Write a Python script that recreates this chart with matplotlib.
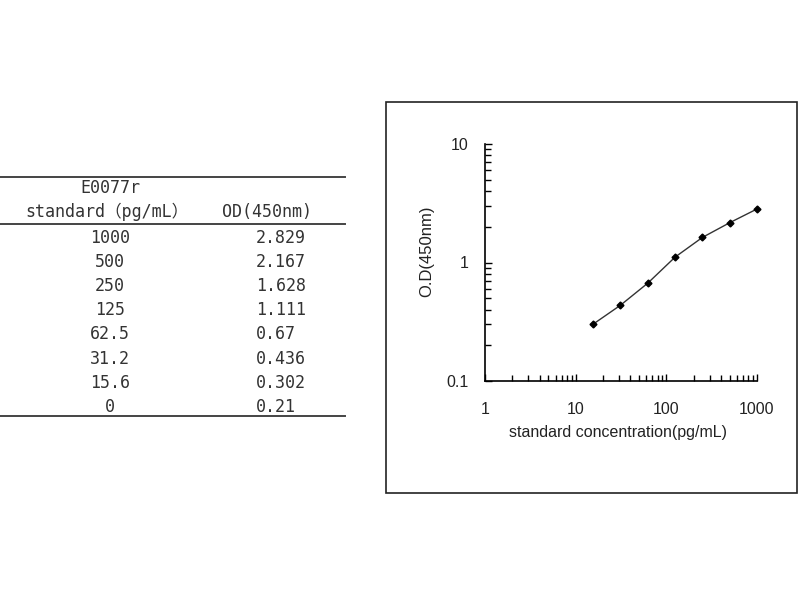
import matplotlib
matplotlib.use("Agg")
import matplotlib.pyplot as plt
from matplotlib.patches import Rectangle
from matplotlib.lines import Line2D
from matplotlib.ticker import LogLocator, FixedLocator, NullFormatter

# standard curve data
conc_labels = ["1000", "500", "250", "125", "62.5", "31.2", "15.6", "0"]
od_labels = ["2.829", "2.167", "1.628", "1.111", "0.67", "0.436", "0.302", "0.21"]
conc = [1000, 500, 250, 125, 62.5, 31.2, 15.6, 0]
od = [2.829, 2.167, 1.628, 1.111, 0.67, 0.436, 0.302, 0.21]

plt.rcParams['font.family'] = ['Liberation Sans', 'DejaVu Sans']

W, H = 800, 600
fig = plt.figure(figsize=(8, 6), dpi=100)
fig.patch.set_facecolor("white")

def fx(px):
    return px / W

def fy(py):
    return 1 - py / H

mono = ["DejaVu Sans Mono", "Noto Sans CJK SC"]
tcol = "#333333"

# table on the left
for y in (177, 224, 416):
    fig.add_artist(Line2D([fx(0), fx(345)], [fy(y), fy(y)], color="#444444", lw=1.4))

fig.text(fx(110), fy(188), "E0077r", family=mono, fontsize=12, color=tcol, ha="center", va="center")
fig.text(fx(107), fy(212), "standard\uff08pg/mL\uff09", family=mono, fontsize=12, color=tcol, ha="center", va="center")
fig.text(fx(267), fy(212), "OD(450nm)", family=mono, fontsize=12, color=tcol, ha="center", va="center")

for i, (c, o) in enumerate(zip(conc_labels, od_labels)):
    y = 238 + i * 24.1
    fig.text(fx(110), fy(y), c, family=mono, fontsize=12, color=tcol, ha="center", va="center")
    fig.text(fx(256), fy(y), o, family=mono, fontsize=12, color=tcol, ha="left", va="center")

# frame around the plot
fig.add_artist(Rectangle((fx(386), fy(493)), fx(797) - fx(386), fy(102) - fy(493),
                         fill=False, edgecolor="#222222", lw=1.2, transform=fig.transFigure))

ax = fig.add_axes([fx(485), fy(381), fx(757) - fx(485), fy(144) - fy(381)])
xs = [c for c in conc if c > 0]
ys = [o for c, o in zip(conc, od) if c > 0]
ax.plot(xs, ys, color="#333333", lw=1.0, marker="D", markersize=3.5,
        markerfacecolor="black", markeredgecolor="black", clip_on=False)

ax.set_xscale("log")
ax.set_yscale("log")
ax.set_xlim(1, 1000)
ax.set_ylim(0.1, 10)

ax.xaxis.set_major_locator(FixedLocator([1, 10, 100, 1000]))
ax.yaxis.set_major_locator(FixedLocator([0.1, 1, 10]))
ax.set_xticklabels(["1", "10", "100", "1000"])
ax.set_yticklabels(["0.1", "1", "10"])
ax.xaxis.set_minor_locator(LogLocator(base=10, subs=range(2, 10)))
ax.yaxis.set_minor_locator(LogLocator(base=10, subs=range(2, 10)))
ax.xaxis.set_minor_formatter(NullFormatter())
ax.yaxis.set_minor_formatter(NullFormatter())

for s in ("top", "right"):
    ax.spines[s].set_visible(False)
for s in ("left", "bottom"):
    ax.spines[s].set_linewidth(1.2)
    ax.spines[s].set_color("black")

ax.tick_params(axis="x", which="both", direction="in", pad=15, labelsize=11.5, labelcolor="#222222")
ax.tick_params(axis="y", which="both", direction="in", pad=12, labelsize=11.5, labelcolor="#222222")
ax.tick_params(which="major", length=5, width=1)
ax.tick_params(which="minor", length=4, width=1)

ax.set_xlabel("standard concentration(pg/mL)", fontsize=11.5, color="#222222", va="center")
ax.set_ylabel("O.D(450nm)", fontsize=12, color="#222222", va="center")
ax.xaxis.set_label_coords(0.489, -0.219)
ax.yaxis.set_label_coords(-0.213, 0.548)

fig.savefig("out.png", dpi=100, facecolor="white")
